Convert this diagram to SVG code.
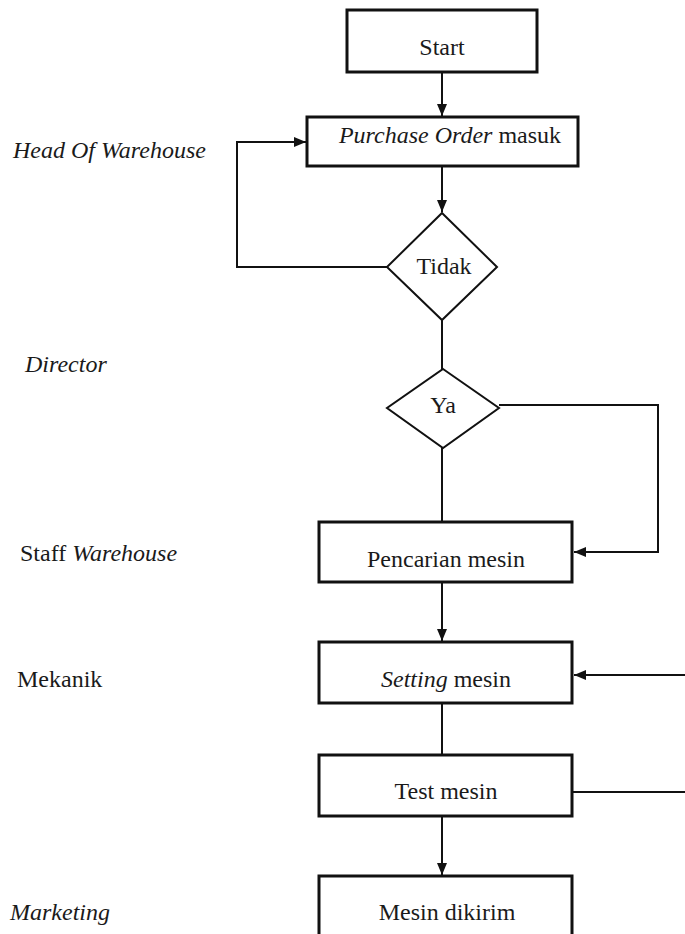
<svg xmlns="http://www.w3.org/2000/svg" width="685" height="934" viewBox="0 0 685 934">
<style>
text{font-family:'Liberation Serif','DejaVu Serif',serif;font-size:24px;fill:#1a1a1a}
.c{text-anchor:middle}
.i{font-style:italic}
.box{fill:#fff;stroke:#111;stroke-width:3}
.dia{fill:#fff;stroke:#111;stroke-width:2}
.ln{fill:none;stroke:#111;stroke-width:2}
</style>
<defs>
<marker id="ah" viewBox="0 0 12 10" refX="12" refY="5" markerWidth="12" markerHeight="10" markerUnits="userSpaceOnUse" orient="auto">
<path d="M0,0 L12,5 L0,10 Z" fill="#111"/>
</marker>
</defs>
<g id="connectors">
<line class="ln" x1="442" y1="72" x2="442" y2="116" marker-end="url(#ah)"/>
<line class="ln" x1="442" y1="166" x2="442" y2="212" marker-end="url(#ah)"/>
<polyline class="ln" points="387,267 237,267 237,142 306,142" marker-end="url(#ah)"/>
<line class="ln" x1="442" y1="320" x2="442" y2="369"/>
<line class="ln" x1="442" y1="448" x2="442" y2="522"/>
<polyline class="ln" points="499,405 658,405 658,552 574,552" marker-end="url(#ah)"/>
<line class="ln" x1="442" y1="582" x2="442" y2="641" marker-end="url(#ah)"/>
<line class="ln" x1="690" y1="675" x2="574" y2="675" marker-end="url(#ah)"/>
<line class="ln" x1="442" y1="703" x2="442" y2="755"/>
<line class="ln" x1="572" y1="792" x2="690" y2="792"/>
<line class="ln" x1="442" y1="816" x2="442" y2="875" marker-end="url(#ah)"/>
</g>
<g id="lanes" font-family="Liberation Serif, serif">
<text class="i" x="13" y="158">Head Of Warehouse</text>
<text class="i" x="25" y="372">Director</text>
<text x="20" y="561">Staff <tspan class="i">Warehouse</tspan></text>
<text x="17" y="687">Mekanik</text>
<text class="i" x="10" y="920">Marketing</text>
</g>
<g id="start">
<rect class="box" x="347" y="10" width="190" height="62"/>
<text class="c" x="442" y="55">Start</text>
</g>
<g id="purchase-order">
<rect class="box" x="307" y="117" width="271" height="49"/>
<text class="c" x="450" y="143"><tspan class="i">Purchase Order</tspan> masuk</text>
</g>
<g id="tidak">
<polygon class="dia" points="442,213 497,267 442,320 387,267"/>
<text class="c" x="444" y="274">Tidak</text>
</g>
<g id="ya">
<polygon class="dia" points="443,369 499,408 443,448 387,408"/>
<text class="c" x="443" y="413">Ya</text>
</g>
<g id="pencarian">
<rect class="box" x="319" y="522" width="253" height="60"/>
<text class="c" x="446" y="567">Pencarian mesin</text>
</g>
<g id="setting">
<rect class="box" x="319" y="642" width="253" height="61"/>
<text class="c" x="446" y="687"><tspan class="i">Setting</tspan> mesin</text>
</g>
<g id="test">
<rect class="box" x="319" y="755" width="253" height="61"/>
<text class="c" x="446" y="799">Test mesin</text>
</g>
<g id="dikirim">
<rect class="box" x="319" y="876" width="253" height="66"/>
<text class="c" x="447" y="920">Mesin dikirim</text>
</g>
</svg>
